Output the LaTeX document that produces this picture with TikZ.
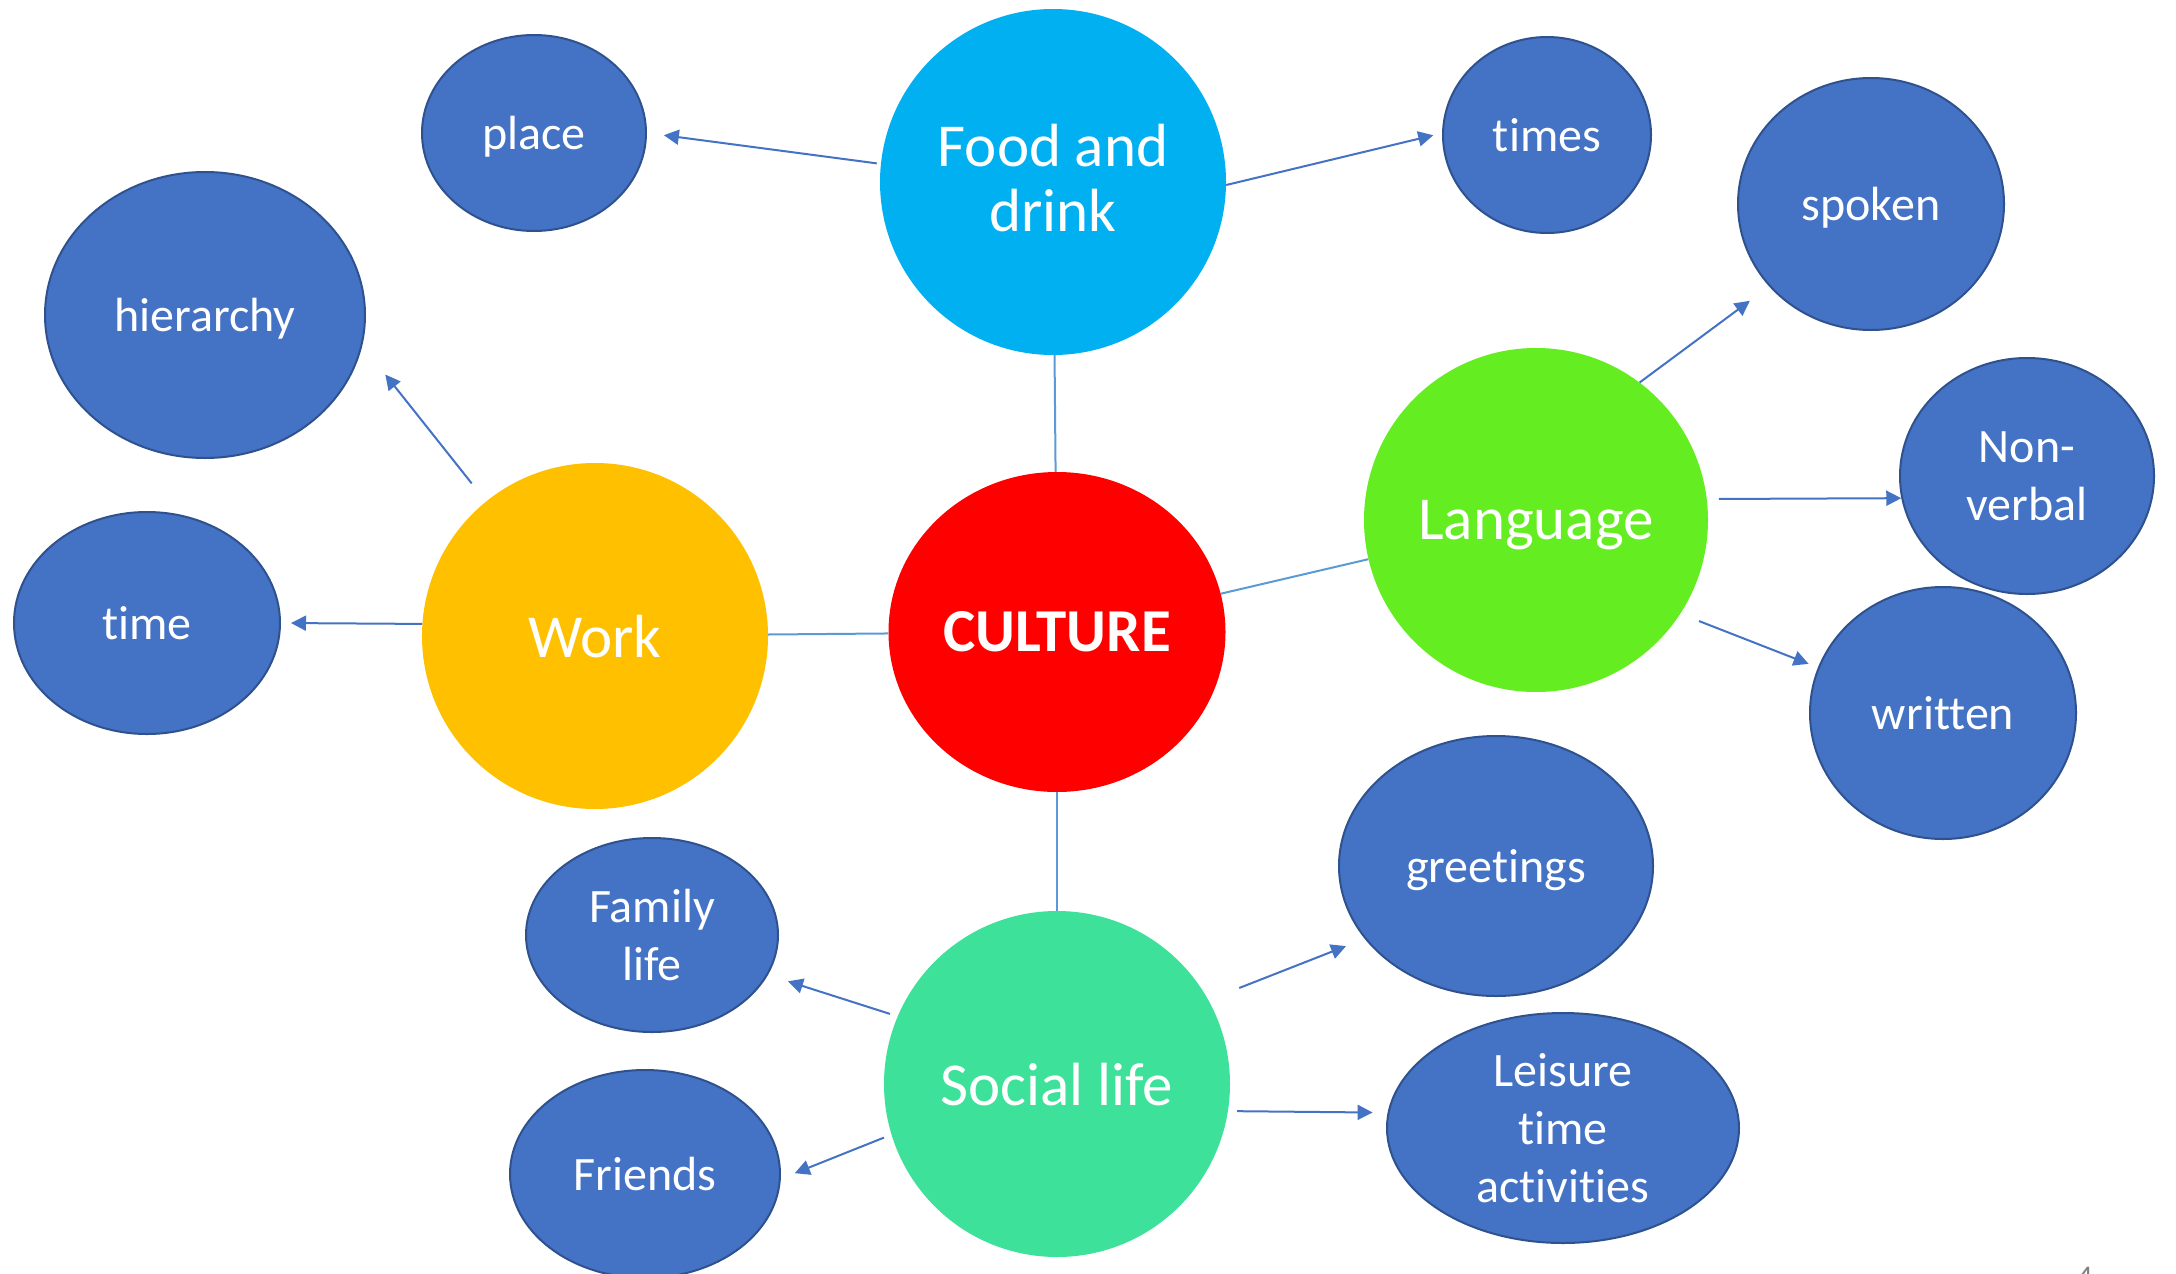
\documentclass[tikz,border=0pt]{standalone}
\usepackage{fontspec}
\setmainfont[Ligatures=NoCommon]{Carlito}
\usetikzlibrary{shapes.geometric,arrows.meta}
\definecolor{foodc}{HTML}{00B0F0}
\definecolor{culturec}{HTML}{FF0000}
\definecolor{workc}{HTML}{FFC000}
\definecolor{langc}{HTML}{64EE22}
\definecolor{socialc}{HTML}{3EE19A}
\definecolor{subfill}{HTML}{4472C4}
\definecolor{subline}{HTML}{2F528F}
\definecolor{linkc}{HTML}{5B9BD5}
\definecolor{arrc}{HTML}{4472C4}
\begin{document}
\begin{tikzpicture}[x=1pt,y=-1pt,
  big/.style={circle, inner sep=0pt, text=white, text depth=0pt, font=\fontsize{61}{65}\selectfont, align=center},
  sub/.style={ellipse, draw=subline, line width=2pt, fill=subfill, inner sep=0pt, text=white, text depth=0pt, font=\fontsize{48}{58}\selectfont, align=center},
  link/.style={draw=linkc, line width=2pt},
  arr/.style={draw=arrc, line width=2pt, -{Triangle[length=15pt,width=15pt]}}]
\useasboundingbox[fill=white] (0,0) rectangle (2176,1274);

% main nodes
\node[big, fill=foodc, minimum size=346pt, text depth=8pt] (food) at (1053,182) {Food and\\drink};
\node[ellipse, inner sep=0pt, fill=culturec, minimum width=337pt, minimum height=320pt, text=white, font=\fontsize{61}{66}\selectfont\bfseries] (culture) at (1057,632) {CULTURE};
\node[big, fill=workc, minimum size=346pt] (work) at (595,636) {Work};
\node[big, fill=langc, minimum size=344pt] (language) at (1536,520) {Language};
\node[big, fill=socialc, minimum size=346pt] (social) at (1057,1084) {Social life};

% sub nodes
\node[sub, minimum width=224pt, minimum height=196pt] (place) at (534,133) {place};
\node[sub, minimum width=208pt, minimum height=196pt] (times) at (1547,135) {times};
\node[sub, minimum width=320pt, minimum height=286pt] (hierarchy) at (205,315) {hierarchy};
\node[sub, minimum width=266pt, minimum height=222pt] (time) at (147,623) {time};
\node[sub, minimum width=266pt, minimum height=252pt] (spoken) at (1871,204) {spoken};
\node[sub, minimum width=254pt, minimum height=236pt] (nonverbal) at (2027,476) {Non-\\verbal};
\node[sub, minimum width=266pt, minimum height=252pt] (written) at (1943,713) {written};
\node[sub, minimum width=314pt, minimum height=260pt] (greetings) at (1496,866) {greetings};
\node[sub, minimum width=252pt, minimum height=194pt] (family) at (652,935) {Family\\life};
\node[sub, minimum width=352pt, minimum height=230pt] (leisure) at (1563,1128) {Leisure\\time\\activities};
\node[sub, minimum width=270pt, minimum height=208pt] (friends) at (645,1174) {Friends};

% page number fragment
\node[text=gray, font=\fontsize{30}{36}\selectfont, anchor=north, inner sep=0pt] (pg) at (2085,1267) {4};

% links to centre
\draw[link] (food) -- (culture);
\draw[link] (work) -- (culture);
\draw[link] (culture) -- (language);
\draw[link] (culture) -- (social);

% arrows
\draw[arr, shorten <=4pt, shorten >=17pt] (food.174) -- (place.0);
\draw[arr, shorten >=9pt] (food.-1) -- (times.179);
\draw[arr, shorten <=23pt, shorten >=37pt] (work.129) -- (hierarchy.-11.6);
\draw[arr, shorten >=10pt] (work.176.4) -- (time.-0.9);
\draw[arr, shorten >=24pt] (language.53) -- (spoken.219.5);
\draw[arr, shorten <=12pt] (language.7) -- (nonverbal.190);
\draw[arr, shorten <=20pt, shorten >=10pt] (language.-33) -- (written.160.7);
\draw[arr, shorten <=33pt, shorten >=20pt] (social.29) -- (greetings.209.5);
\draw[arr, shorten <=8pt, shorten >=21pt] (social.157.5) -- (family.-19.5);
\draw[arr, shorten <=9pt, shorten >=15pt] (social.-9.2) -- (leisure.175);
\draw[arr, shorten <=8pt, shorten >=15pt] (social.197) -- (friends.-2.6);
\end{tikzpicture}
\end{document}
